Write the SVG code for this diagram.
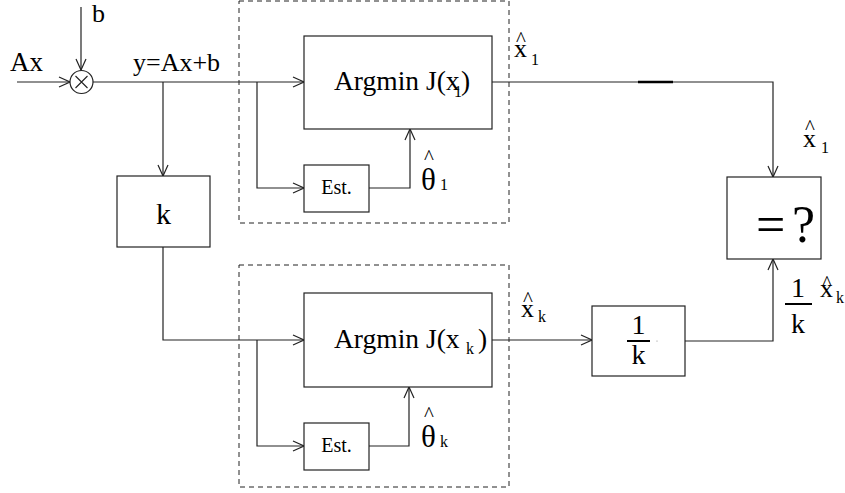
<svg xmlns="http://www.w3.org/2000/svg" width="845" height="493" viewBox="0 0 845 493">
<defs>
<style>
text{font-family:'Liberation Serif','DejaVu Serif','Times New Roman',serif;fill:#000}
.t{font-size:26px}
.s{font-size:16px}
.h{font-size:21px}
.ln{fill:none;stroke:#222;stroke-width:1.2}
.bx{fill:#fff;stroke:#222;stroke-width:1.2}
.ds{fill:none;stroke:#222;stroke-width:1;stroke-dasharray:5 4}
</style>
<marker id="a" viewBox="-12 -6 13 12" refX="0" refY="0" markerWidth="13" markerHeight="12" markerUnits="userSpaceOnUse" orient="auto">
<path d="M-11,-5 L0,0 L-11,5" fill="none" stroke="#222" stroke-width="1.2"/>
</marker>
</defs>
<rect width="845" height="493" fill="#fff"/>

<g id="frames">
<rect class="ds" x="239" y="1" width="270" height="222"/>
<rect class="ds" x="239" y="265" width="270" height="222"/>
</g>

<g id="connectors">
<line class="ln" x1="81" y1="7" x2="81" y2="70" marker-end="url(#a)"/>
<line class="ln" x1="17" y1="82" x2="70" y2="82" marker-end="url(#a)"/>
<line class="ln" x1="93" y1="82" x2="304" y2="82" marker-end="url(#a)"/>
<line class="ln" x1="163" y1="82" x2="163" y2="176" marker-end="url(#a)"/>
<polyline class="ln" points="257,82 257,188 304,188" marker-end="url(#a)"/>
<polyline class="ln" points="369,188 410,188 410,129" marker-end="url(#a)"/>
<polyline class="ln" points="492,82 773,82 773,177" marker-end="url(#a)"/>
<line x1="638" y1="82" x2="673" y2="82" stroke="#000" stroke-width="2.5"/>
<polyline class="ln" points="163,247 163,340 304,340" marker-end="url(#a)"/>
<polyline class="ln" points="257,340 257,446 304,446" marker-end="url(#a)"/>
<polyline class="ln" points="369,446 409,446 409,387" marker-end="url(#a)"/>
<line class="ln" x1="492" y1="340" x2="592" y2="340" marker-end="url(#a)"/>
<polyline class="ln" points="685,341 773,341 773,259" marker-end="url(#a)"/>
</g>

<g id="sum">
<circle cx="81.5" cy="82" r="11.5" fill="#fff" stroke="#222" stroke-width="1.2"/>
<path d="M75.5,76 L87.5,88 M87.5,76 L75.5,88" stroke="#222" stroke-width="1.1"/>
</g>

<g id="labels-in">
<text class="t" x="92" y="22">b</text>
<text class="t" x="10" y="71" style="font-size:27px">Ax</text>
<text class="t" x="133" y="71">y=Ax+b</text>
</g>

<g id="k-box">
<rect class="bx" x="117" y="176" width="93" height="71"/>
<text class="t" x="163.5" y="224" text-anchor="middle" style="font-size:30px">k</text>
</g>

<g id="argmin1">
<rect class="bx" x="304" y="36" width="188" height="93"/>
<text class="t" x="334" y="90" style="font-size:27.5px">Argmin J(x</text>
<text class="s" x="454" y="97">1</text>
<text class="t" x="461" y="90" style="font-size:27.5px">)</text>
</g>

<g id="est1">
<rect class="bx" x="304" y="165" width="65" height="47"/>
<text x="336.5" y="194" text-anchor="middle" style="font-size:20px">Est.</text>
</g>

<g id="theta1">
<text class="h" x="424" y="164">^</text>
<text x="421" y="190" style="font-size:31px">θ</text>
<text class="s" x="440" y="190">1</text>
</g>

<g id="xhat1-top">
<text class="h" x="516" y="46">^</text>
<text class="t" x="514" y="57">x</text>
<text class="s" x="531" y="65">1</text>
</g>

<g id="argmink">
<rect class="bx" x="304" y="293" width="188" height="94"/>
<text class="t" x="334" y="348" style="font-size:27.5px">Argmin J(x</text>
<text class="s" x="466" y="354">k</text>
<text class="t" x="478" y="348" style="font-size:27.5px">)</text>
</g>

<g id="estk">
<rect class="bx" x="304" y="423" width="65" height="47"/>
<text x="336.5" y="452" text-anchor="middle" style="font-size:20px">Est.</text>
</g>

<g id="thetak">
<text class="h" x="424" y="421">^</text>
<text x="421" y="447" style="font-size:31px">θ</text>
<text class="s" x="440" y="447">k</text>
</g>

<g id="xhatk-mid">
<text class="h" x="523" y="306">^</text>
<text class="t" x="521" y="317">x</text>
<text class="s" x="538" y="322">k</text>
</g>

<g id="inv-k">
<rect class="bx" x="592" y="306" width="93" height="70"/>
<text x="638.5" y="334" text-anchor="middle" style="font-size:28px">1</text>
<line x1="627" y1="341" x2="650" y2="341" stroke="#000" stroke-width="2"/>
<text x="638.5" y="364" text-anchor="middle" style="font-size:28px">k</text>
<circle cx="657" cy="341" r="0.6" fill="#888"/>
</g>

<g id="compare">
<rect class="bx" x="727" y="177" width="94" height="82"/>
<text x="756" y="242" style="font-size:52px">=</text>
<text x="792" y="242" style="font-size:52px">?</text>
</g>

<g id="xhat1-right">
<text class="h" x="805" y="134">^</text>
<text class="t" x="803" y="147">x</text>
<text class="s" x="821" y="153">1</text>
</g>

<g id="scaled-xk">
<text x="798" y="297" text-anchor="middle" style="font-size:28px">1</text>
<line x1="785" y1="304" x2="812" y2="304" stroke="#000" stroke-width="2"/>
<text x="798" y="333" text-anchor="middle" style="font-size:28px">k</text>
<text class="h" x="822" y="290">^</text>
<text class="t" x="820" y="297">x</text>
<text class="s" x="836" y="303">k</text>
</g>
</svg>
